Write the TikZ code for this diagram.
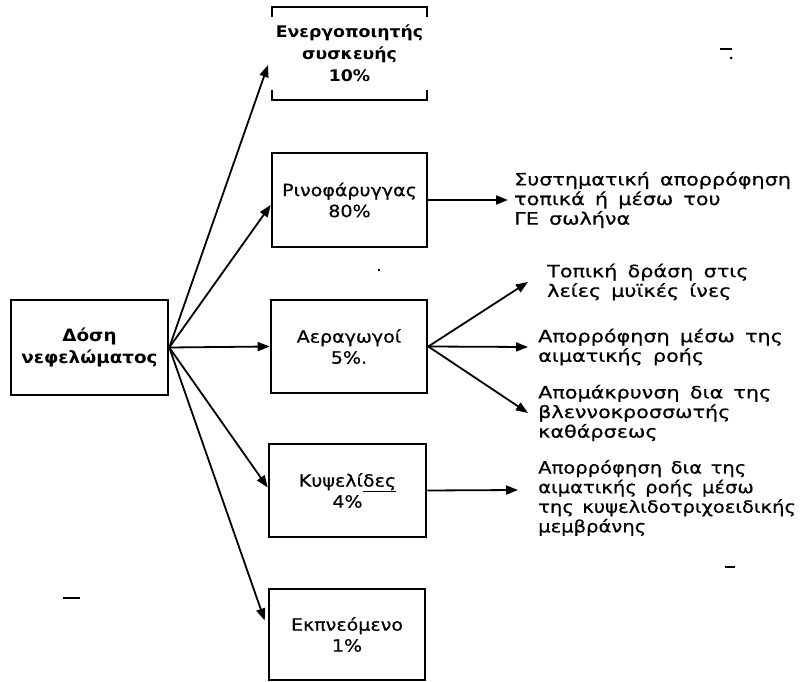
\documentclass[tikz,border=0pt]{standalone}
\usepackage{fontspec}
\setmainfont{DejaVu Sans}
\newfontfamily\boxfont[FakeStretch=1.12, FakeBold=0.6]{DejaVu Sans}
\newfontfamily\headfont[FakeStretch=1.08]{DejaVu Sans}
\newfontfamily\notefont[FakeStretch=1.22, FakeBold=0.6]{DejaVu Sans}
\newfontfamily\narrownotefont[FakeStretch=1.15, FakeBold=0.6]{DejaVu Sans}
\usetikzlibrary{arrows.meta,calc}

\tikzset{
  stage/.style={draw, line width=2.6pt, inner sep=0pt, align=center,
    font={\boxfont\fontsize{17}{21}\selectfont}},
  note/.style={anchor=west, inner ysep=0pt, align=left,
    font={\notefont\fontsize{17}{19.6}\selectfont\spaceskip=0.6em\relax}},
  conn/.style={line width=1.8pt, -{Triangle[length=12pt,width=9pt]}},
  speck/.style={line width=1.6pt},
}

\begin{document}
\begin{tikzpicture}[x=1pt,y=-1pt]
  \useasboundingbox (0,0) rectangle (807,682);

  % source box
  \node[stage, minimum width=157pt, minimum height=95pt,
        font={\headfont\bfseries\fontsize{17}{22}\selectfont}]
    (dose) at (89.5,347.5) {Δόση\\νεφελώματος};

  % device: open box, only its corner brackets drawn
  \node[inner sep=0pt, minimum width=155pt, minimum height=93pt, align=center,
        font={\headfont\bfseries\fontsize{16}{22}\selectfont}]
    (device) at (349.5,53.5) {Ενεργοποιητής\\συσκευής\\10\%};
  \draw[line width=2.4pt]
    ($(device.north west)+(0,10)$) -- (device.north west) -- (device.north east) -- ($(device.north east)+(0,10)$);
  \draw[line width=2.4pt]
    ($(device.south west)+(0,-10)$) -- (device.south west) -- (device.south east) -- ($(device.south east)+(0,-10)$);
  \coordinate (devin) at (268,65);

  % deposition sites
  \node[stage, minimum width=155pt, minimum height=94pt] (naso) at (349.5,200) {Ρινοφάρυγγας\\80\%};
  \node[stage, minimum width=156pt, minimum height=93pt] (airw) at (349,346.5) {Αεραγωγοί\\5\%.};
  \node[stage, minimum width=157pt, minimum height=93pt] (alve) at (347.5,490.5) {Κυψελί\underline{δες}\\4\%};
  \node[stage, minimum width=156pt, minimum height=91pt] (exh)  at (347,634.5) {Εκπνεόμενο\\1\%};

  % fates
  \node[note, inner xsep=6pt]  (nasofate) at (508,200)
    {Συστηματική απορρόφηση\\τοπικά ή μέσω του\\ΓΕ σωλήνα};
  \node[note, inner xsep=19pt] (local) at (528,282)
    {Τοπική δράση στις\\λείες μυϊκές ίνες};
  \node[note, inner xsep=10pt] (blood) at (528,347)
    {Απορρόφηση μέσω της\\αιματικής ροής};
  \node[note, inner xsep=10pt] (clear) at (528,413)
    {Απομάκρυνση δια της\\βλεννοκροσσωτής\\καθάρσεως};
  \node[note, inner xsep=20pt,
        font={\narrownotefont\fontsize{17}{19.6}\selectfont\spaceskip=0.5em\relax}]
    (alvfate) at (518,498)
    {Απορρόφηση δια της\\αιματικής ροής μέσω\\της κυψελιδοτριχοειδικής\\μεμβράνης};

  % connectors from the dose
  \draw[conn] (dose.east) -- (devin);
  \draw[conn] (dose.east) -- ($(naso.west)+(0,5)$);
  \draw[conn] (dose.east) -- (airw.west);
  \draw[conn] (dose.east) -- ($(alve.west)+(0,-3)$);
  \draw[conn] (dose.east) -- ($(exh.west)+(-3,-14)$);

  % connectors to the fates
  \draw[conn] (naso.east) -- (nasofate.west);
  \draw[conn] (airw.east) -- (local.west);
  \draw[conn] (airw.east) -- (blood.west);
  \draw[conn] (airw.east) -- (clear.west);
  \draw[conn] (alve.east) -- ($(alvfate.west)+(0,-8)$);

  % small specks of ink
  \draw[speck] (720,49) -- (732,49);
  \fill (731,58) circle (1.5pt);
  \draw[speck] (725,567) -- (735,567);
  \draw[speck] (63,598) -- (80,598);
  \fill (379,270) circle (1.3pt);
\end{tikzpicture}
\end{document}
